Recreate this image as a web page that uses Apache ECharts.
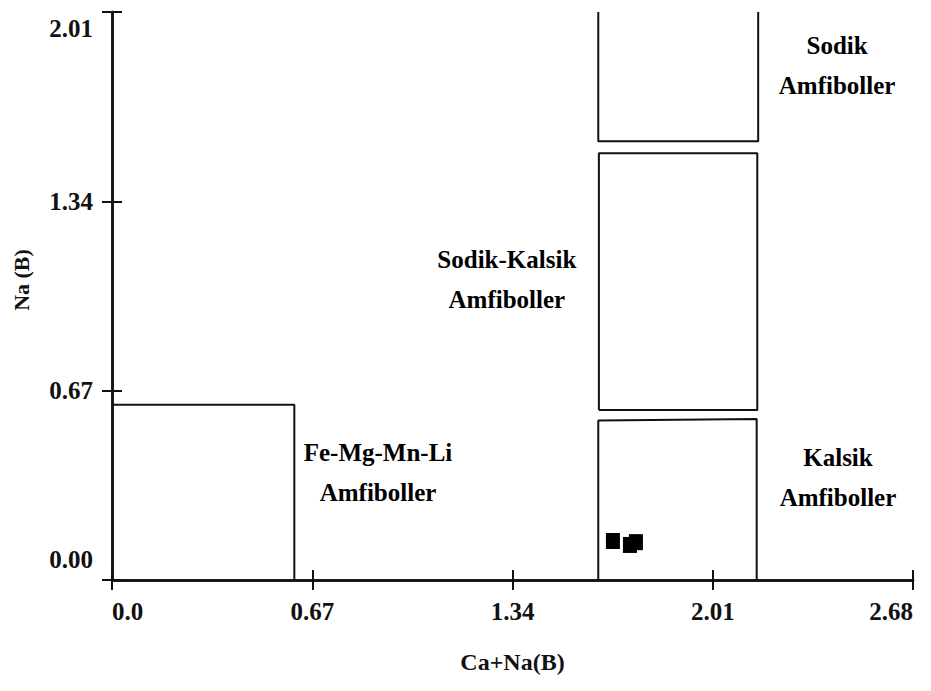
<!DOCTYPE html>
<html>
<head>
<meta charset="utf-8">
<script src="https://cdn.jsdelivr.net/npm/echarts@6/dist/echarts.min.js"></script>
<style>
  html, body { margin: 0; padding: 0; background: #fff; }
  #chart { width: 931px; height: 691px; }
</style>
</head>
<body>
<div id="chart"></div>
<script>
// axis ticks
var xTicks = [0, 0.67, 1.34, 2.01, 2.68];
var yTicks = [0, 0.67, 1.34, 2.01];

// field boundaries (Ca+Na(B), Na(B))
var feMgBox = [[0, 0.62], [0.61, 0.62], [0.61, 0]];
var kalsikBox = [[1.627, 0], [1.627, 0.564], [2.157, 0.57], [2.157, 0]];
var sodikKalsikBox = [[1.629, 0.602], [1.629, 1.51], [2.159, 1.51], [2.159, 0.602], [1.629, 0.602]];
var sodikBox = [[1.627, 2.01], [1.627, 1.553], [2.162, 1.553], [2.162, 2.01]];

// samples
var samples = [[1.676, 0.138], [1.733, 0.124], [1.753, 0.134]];

// field names
var fieldNames = ['Sodik\nAmfiboller', 'Sodik-Kalsik\nAmfiboller', 'Fe-Mg-Mn-Li\nAmfiboller', 'Kalsik\nAmfiboller'];
var fieldNamePos = [[2.426, 1.822], [1.321, 1.062], [0.89, 0.382], [2.429, 0.361]];

var font = '"Liberation Serif", "Times New Roman", serif';
var ink = '#111';

function boxSeries(data) {
	return {
		type: 'line',
		data: data,
		symbol: 'none',
		silent: true,
		lineStyle: { color: ink, width: 2 },
		z: 3
	};
}

var chart = echarts.init(document.getElementById('chart'), null, { renderer: 'svg' });

var option = {
	animation: false,
	backgroundColor: '#fff',
	grid: { left: 112, right: 18, top: 12, bottom: 111 },
	xAxis: [
		{
			type: 'value', min: 0, max: 2.68, interval: 0.67,
			name: 'Ca+Na(B)', nameLocation: 'middle', nameGap: 70,
			nameTextStyle: { fontFamily: font, fontWeight: 'bold', fontSize: 24, color: ink },
			axisLine: { show: true, lineStyle: { color: ink, width: 2.5 } },
			axisTick: { show: true, inside: true, length: 10, lineStyle: { color: ink, width: 2 } },
			splitLine: { show: false },
			axisLabel: {
				margin: 19, fontFamily: font, fontWeight: 'bold', fontSize: 25, color: ink,
				alignMinLabel: 'left', alignMaxLabel: 'right',
				formatter: function (v) { return v === 0 ? '0.0' : v.toFixed(2); }
			}
		},
		{
			type: 'value', position: 'top', min: 0, max: 2.68, interval: 0.67,
			axisLine: { show: true, lineStyle: { color: ink, width: 2.5 } },
			axisTick: { show: true, inside: true, length: 10, lineStyle: { color: ink, width: 2 } },
			axisLabel: { show: false },
			splitLine: { show: false }
		}
	],
	yAxis: [
		{
			type: 'value', min: 0, max: 2.01, interval: 0.67,
			name: 'Na (B)', nameLocation: 'middle', nameGap: 80,
			nameTextStyle: { fontFamily: font, fontWeight: 'bold', fontSize: 22, color: ink, padding: [0, 0, 0, 32] },
			axisLine: { show: true, lineStyle: { color: ink, width: 2.5 } },
			axisTick: { show: true, inside: true, length: 10, lineStyle: { color: ink, width: 2 } },
			splitLine: { show: false },
			axisLabel: {
				margin: 19, fontFamily: font, fontWeight: 'bold', fontSize: 25, color: ink,
				verticalAlignMinLabel: 'bottom', verticalAlignMaxLabel: 'top',
				formatter: function (v) {
					if (v === 0) return '{lo|0.00}';
					if (Math.abs(v - 2.01) < 1e-6) return '{hi|2.01}';
					return v.toFixed(2);
				},
				rich: {
					lo: { fontFamily: font, fontWeight: 'bold', fontSize: 25, color: ink, padding: [0, 0, 8, 0] },
					hi: { fontFamily: font, fontWeight: 'bold', fontSize: 25, color: ink, padding: [4, 0, 0, 0] }
				}
			}
		},
		{
			type: 'value', position: 'right', min: 0, max: 2.01, interval: 0.67,
			axisLine: { show: true, lineStyle: { color: ink, width: 2.5 } },
			axisTick: { show: true, inside: true, length: 10, lineStyle: { color: ink, width: 2 } },
			axisLabel: { show: false },
			splitLine: { show: false }
		}
	],
	series: [
		boxSeries(feMgBox),
		boxSeries(kalsikBox),
		boxSeries(sodikKalsikBox),
		boxSeries(sodikBox),
		{
			type: 'scatter',
			data: samples,
			symbol: 'rect',
			symbolSize: [14, 16],
			itemStyle: { color: '#000', opacity: 1 },
			z: 5
		},
		{
			type: 'scatter',
			silent: true,
			symbolSize: 0,
			itemStyle: { opacity: 1 },
			data: fieldNamePos.map(function (p, i) {
				return { value: p, label: { formatter: fieldNames[i] } };
			}),
			label: {
				show: true, position: 'inside', align: 'center', verticalAlign: 'middle',
				fontFamily: font, fontWeight: 'bold', fontSize: 25, lineHeight: 40, color: '#000'
			}
		}
	]
};
chart.setOption(option);
</script>
</body>
</html>
